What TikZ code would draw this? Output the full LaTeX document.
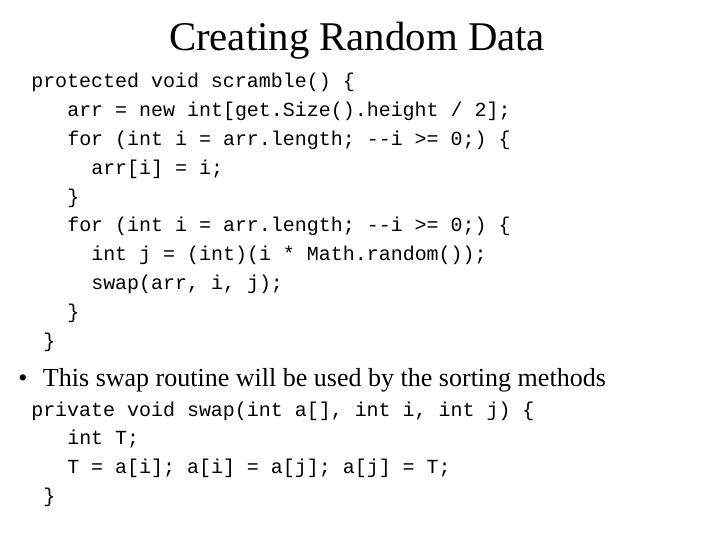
\documentclass[tikz,border=0pt]{standalone}
\usepackage{fontspec}
\setmainfont{Liberation Serif}
\setmonofont{Liberation Mono}
\begin{document}
\begin{tikzpicture}[x=0.025cm,y=-0.025cm,
  code/.style={anchor=base west,inner sep=0pt,font=\fontsize{14.2}{16}\ttfamily},
  heading/.style={anchor=base,inner sep=0pt,font=\fontsize{29}{32}\selectfont},
  bullet/.style={anchor=base west,inner sep=0pt,font=\fontsize{18.5}{22}\selectfont}]
\useasboundingbox (0,0) rectangle (720,540);

% Title
\node[heading] (title) at (357,50) {Creating Random Data};

% scramble method
\node[code] (l1) at (31,87) {protected void scramble() \{};
\node[code] (l2) at (67,116) {arr = new int[get.Size().height / 2];};
\node[code] (l3) at (67,145) {for (int i = arr.length; --i >= 0;) \{};
\node[code] (l4) at (91,174) {arr[i] = i;};
\node[code] (l5) at (67,203) {\}};
\node[code] (l6) at (67,231) {for (int i = arr.length; --i >= 0;) \{};
\node[code] (l7) at (91,260) {int j = (int)(i * Math.random());};
\node[code] (l8) at (91,289) {swap(arr, i, j);};
\node[code] (l9) at (67,318) {\}};
\node[code] (l10) at (43,347) {\}};

% Bullet
\node[bullet] (note) at (18,386) {\textbullet\hspace{0.6em}This swap routine will be used by the sorting methods};

% swap method
\node[code] (s1) at (31,416) {private void swap(int a[], int i, int j) \{};
\node[code] (s2) at (67,444) {int T;};
\node[code] (s3) at (67,473) {T = a[i]; a[i] = a[j]; a[j] = T;};
\node[code] (s4) at (43,502) {\}};
\end{tikzpicture}
\end{document}
